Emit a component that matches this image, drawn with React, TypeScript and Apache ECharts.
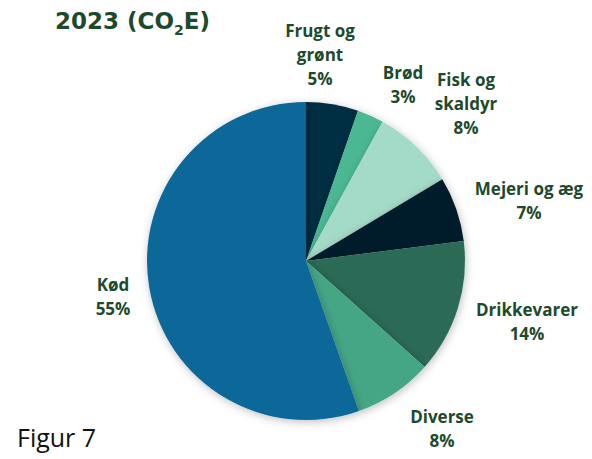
import React, { useEffect, useRef } from "react";
import * as echarts from "echarts";

const categories = ["Frugt og\ngrønt", "Brød", "Fisk og\nskaldyr", "Mejeri og æg", "Drikkevarer", "Diverse", "Kød"];
// shares (%); labels show rounded values
const values = [5.3, 2.7, 8.4, 6.6, 13.6, 8.0, 55.4];
const colors = ["#062d42", "#4bb893", "#a4dbc8", "#031e2a", "#2b6b57", "#45a685", "#08679a"];
// label anchor positions (layout only)
const labelPos: [number, number][] = [
  [320, 54], [403, 84], [466, 103], [529, 200], [527, 321], [442, 428], [113, 296],
];

export default function App() {
  const ref = useRef<HTMLDivElement>(null);
  useEffect(() => {
    document.body.style.margin = "0";
    const chart = echarts.init(ref.current!, undefined, { renderer: "svg" });
    chart.setOption({
      animation: false,
      backgroundColor: "#ffffff",
      graphic: [
        {
          type: "text",
          left: 55,
          top: 9,
          style: {
            text: "{a|2023 (CO}{s|2}{a|E)}",
            rich: {
              a: { fontFamily: "DejaVu Sans", fontWeight: "bold", fontSize: 23, fill: "#1d4a2c", lineHeight: 32 },
              s: { fontFamily: "DejaVu Sans", fontWeight: "bold", fontSize: 14, fill: "#1d4a2c", lineHeight: 32, verticalAlign: "bottom", padding: [13, 0, 0, 0] },
            },
          },
        },
        {
          type: "text",
          left: 17,
          top: 424,
          style: { text: "Figur 7", fontFamily: "Open Sans", fontSize: 25, fill: "#111111" },
        },
      ],
      series: [
        {
          type: "pie",
          center: [306, 261],
          radius: 159,
          startAngle: 90,
          clockwise: true,
          data: categories.map((c, i) => ({ name: c, value: values[i], itemStyle: { color: colors[i] } })),
          itemStyle: {
            borderWidth: 0,
            shadowBlur: 8,
            shadowColor: "rgba(0,0,0,0.25)",
            shadowOffsetX: 1,
            shadowOffsetY: 2,
          },
          label: {
            show: true,
            position: "outside",
            formatter: (p: any) => `${p.name}\n${Math.round(p.value)}%`,
            fontFamily: "Open Sans",
            fontWeight: "bold",
            fontSize: 17,
            lineHeight: 24,
            color: "#1d4a2c",
            align: "center",
            overflow: "none",
            width: 200,
          },
          labelLine: { show: false },
          labelLayout: (p: any) => ({
            x: labelPos[p.dataIndex][0],
            y: labelPos[p.dataIndex][1],
            align: "center",
            verticalAlign: "middle",
          }),
          emphasis: { disabled: true },
        },
      ],
    });
    return () => chart.dispose();
  }, []);
  return <div ref={ref} style={{ width: 592, height: 459 }} />;
}
